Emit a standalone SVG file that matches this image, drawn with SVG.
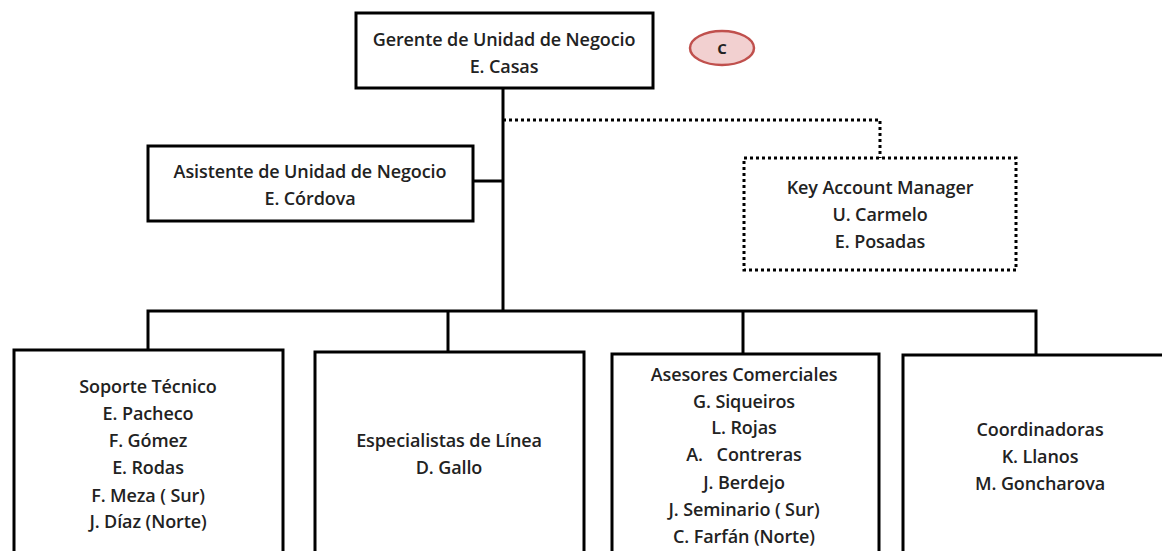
<svg xmlns="http://www.w3.org/2000/svg" width="1162" height="551" viewBox="0 0 1162 551">
<style>
.box{fill:#fff;stroke:#000;stroke-width:3}
.dot{fill:#fff;stroke:#000;stroke-width:3;stroke-dasharray:3 3}
.ln{fill:none;stroke:#000;stroke-width:3}
.dl{fill:none;stroke:#000;stroke-width:3;stroke-dasharray:3 3}
text{font-family:"Open Sans",Lato,sans-serif;font-size:18px;font-weight:600;fill:#222;text-anchor:middle;letter-spacing:-0.1px}
</style>
<rect width="1162" height="551" fill="#fff"/>
<g id="connectors">
<path class="ln" d="M503,88 V311"/>
<path class="ln" d="M473,181 H503"/>
<path class="dl" d="M503,120 H880 V158"/>
<path class="ln" d="M148,350 V311 H1036 V355"/>
<path class="ln" d="M448,311 V352"/>
<path class="ln" d="M743,311 V354"/>
</g>
<g id="gerente">
<rect class="box" x="356" y="13" width="297" height="75"/>
<text x="504" y="46">Gerente de Unidad de Negocio</text>
<text x="504" y="73">E. Casas</text>
</g>
<g id="c-mark">
<ellipse cx="722" cy="48" rx="32" ry="17" fill="#f2d0d0" stroke="#c0504d" stroke-width="2.5"/>
<text x="722" y="54" style="font-size:15px;font-weight:bold">C</text>
</g>
<g id="asistente">
<rect class="box" x="148" y="146" width="325" height="75"/>
<text x="310" y="178">Asistente de Unidad de Negocio</text>
<text x="310" y="205">E. Córdova</text>
</g>
<g id="kam">
<rect class="dot" x="744" y="158" width="272" height="112"/>
<text x="880" y="194">Key Account Manager</text>
<text x="880" y="221">U. Carmelo</text>
<text x="880" y="248">E. Posadas</text>
</g>
<g id="soporte">
<rect class="box" x="14" y="350" width="269" height="220"/>
<text x="148" y="393">Soporte Técnico</text>
<text x="148" y="420">E. Pacheco</text>
<text x="148" y="447">F. Gómez</text>
<text x="148" y="474">E. Rodas</text>
<text x="148" y="502">F. Meza ( Sur)</text>
<text x="148" y="528">J. Díaz (Norte)</text>
</g>
<g id="especialistas">
<rect class="box" x="315" y="352" width="269" height="220"/>
<text x="449" y="447">Especialistas de Línea</text>
<text x="449" y="474">D. Gallo</text>
</g>
<g id="asesores">
<rect class="box" x="612" y="354" width="267" height="220"/>
<text x="744" y="381">Asesores Comerciales</text>
<text x="744" y="408">G. Siqueiros</text>
<text x="744" y="434">L. Rojas</text>
<text x="744" y="461" style="white-space:pre">A.   Contreras</text>
<text x="744" y="489">J. Berdejo</text>
<text x="744" y="516">J. Seminario ( Sur)</text>
<text x="744" y="543">C. Farfán (Norte)</text>
</g>
<g id="coordinadoras">
<rect class="box" x="903" y="355" width="280" height="220"/>
<text x="1040" y="436">Coordinadoras</text>
<text x="1040" y="463">K. Llanos</text>
<text x="1040" y="490">M. Goncharova</text>
</g>
</svg>
